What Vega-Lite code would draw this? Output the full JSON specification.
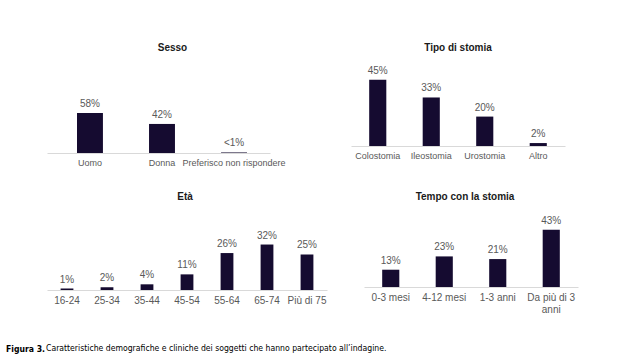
{
  "$schema": "https://vega.github.io/schema/vega-lite/v6.json",
  "background": "white",
  "padding": {"left": 6, "top": 43, "right": 5, "bottom": 5},
  "title": {"text": "Caratteristiche demografiche e cliniche dei soggetti che hanno partecipato all’indagine.", "orient": "bottom", "anchor": "start", "font": "Liberation Sans Narrow, DejaVu Sans Condensed, sans-serif", "fontSize": 8.6, "fontWeight": "normal", "color": "#000000", "offset": 0, "dx": 40, "dy": -10},
  "vconcat": [
    {
      "title": {"text": "Figura 3.", "orient": "bottom", "anchor": "start", "font": "Liberation Sans Narrow, DejaVu Sans Condensed, sans-serif", "fontSize": 8.6, "fontWeight": "bold", "color": "#000000", "offset": 31, "dx": -41},
      "spacing": 25,
      "vconcat": [
        {
          "spacing": 65,
          "hconcat": [
            {
              "title": {"text": "Sesso", "dx": 14},
              "width": 223, "height": 92,
              "data": {"values": [
                {"cat": "Uomo", "value": 58, "label": "58%"},
                {"cat": "Donna", "value": 42, "label": "42%"},
                {"cat": "Preferisco non rispondere", "value": 0.8, "label": "<1%"}
              ]},
              "encoding": {
                "x": {"field": "cat", "type": "nominal", "sort": null, "scale": {"paddingInner": 0.64, "paddingOuter": 0.368, "align": 0.566}, "axis": {"labelFontSize": 9}},
                "y": {"field": "value", "type": "quantitative", "scale": {"domain": [0, 133]}, "axis": null}
              },
              "layer": [
                {"mark": {"type": "bar", "color": "#150b30"}},
                {"mark": {"type": "text", "baseline": "bottom", "dy": -4, "fontSize": 10, "color": "#595959", "font": "Liberation Sans"}, "encoding": {"text": {"field": "label"}}}
              ]
            },
            {
              "title": {"text": "Tipo di stomia"},
              "width": 214, "height": 85,
              "data": {"values": [
                {"cat": "Colostomia", "value": 45, "label": "45%"},
                {"cat": "Ileostomia", "value": 33, "label": "33%"},
                {"cat": "Urostomia", "value": 20, "label": "20%"},
                {"cat": "Altro", "value": 2, "label": "2%"}
              ]},
              "encoding": {
                "x": {"field": "cat", "type": "nominal", "sort": null, "scale": {"paddingInner": 0.68, "paddingOuter": 0.34}, "axis": {"labelFontSize": 9}},
                "y": {"field": "value", "type": "quantitative", "scale": {"domain": [0, 57.8]}, "axis": null}
              },
              "layer": [
                {"mark": {"type": "bar", "color": "#150b30"}},
                {"mark": {"type": "text", "baseline": "bottom", "dy": -4, "fontSize": 10, "color": "#595959", "font": "Liberation Sans"}, "encoding": {"text": {"field": "label"}}}
              ]
            }
          ]
        },
        {
          "spacing": 37,
          "hconcat": [
            {
              "title": {"text": "Età", "dx": -2},
              "width": 280, "height": 80,
              "data": {"values": [
                {"cat": "16-24", "value": 1, "label": "1%"},
                {"cat": "25-34", "value": 2, "label": "2%"},
                {"cat": "35-44", "value": 4, "label": "4%"},
                {"cat": "45-54", "value": 11, "label": "11%"},
                {"cat": "55-64", "value": 26, "label": "26%"},
                {"cat": "65-74", "value": 32, "label": "32%"},
                {"cat": "Più di 75", "value": 25, "label": "25%"}
              ]},
              "encoding": {
                "x": {"field": "cat", "type": "nominal", "sort": null, "scale": {"paddingInner": 0.68, "paddingOuter": 0.34}, "axis": {"labelFontSize": 10}},
                "y": {"field": "value", "type": "quantitative", "scale": {"domain": [0, 56.3]}, "axis": null}
              },
              "layer": [
                {"mark": {"type": "bar", "color": "#150b30"}},
                {"mark": {"type": "text", "baseline": "bottom", "dy": -4, "fontSize": 10, "color": "#595959", "font": "Liberation Sans"}, "encoding": {"text": {"field": "label"}}}
              ]
            },
            {
              "title": {"text": "Tempo con la stomia", "dx": -6},
              "width": 214, "height": 77,
              "data": {"values": [
                {"cat": "0-3 mesi", "value": 13, "label": "13%"},
                {"cat": "4-12 mesi", "value": 23, "label": "23%"},
                {"cat": "1-3 anni", "value": 21, "label": "21%"},
                {"cat": "Da più di 3 anni", "value": 43, "label": "43%"}
              ]},
              "encoding": {
                "x": {"field": "cat", "type": "nominal", "sort": null, "scale": {"paddingInner": 0.68, "paddingOuter": 0.34}, "axis": {"labelFontSize": 10, "labelExpr": "datum.label == 'Da più di 3 anni' ? ['Da più di 3', 'anni'] : datum.label"}},
                "y": {"field": "value", "type": "quantitative", "scale": {"domain": [0, 57.9]}, "axis": null}
              },
              "layer": [
                {"mark": {"type": "bar", "color": "#150b30"}},
                {"mark": {"type": "text", "baseline": "bottom", "dy": -4, "fontSize": 10, "color": "#595959", "font": "Liberation Sans"}, "encoding": {"text": {"field": "label"}}}
              ]
            }
          ]
        }
      ]
    }
  ],
  "config": {
    "view": {"stroke": null},
    "font": "Liberation Sans",
    "title": {"font": "Liberation Sans", "fontSize": 10, "fontWeight": "bold", "color": "#1a1a1a", "offset": 8},
    "axis": {"title": null, "grid": false, "ticks": false, "labelAngle": 0, "labelColor": "#595959", "labelFont": "Liberation Sans", "labelPadding": 5, "domainColor": "#d9d9d9", "labelLineHeight": 12}
  }
}
